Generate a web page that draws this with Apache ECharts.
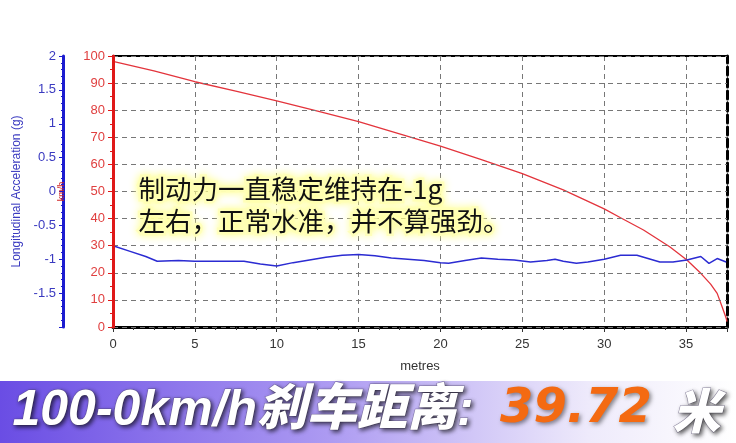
<!DOCTYPE html>
<html>
<head>
<meta charset="utf-8">
<title>100-0km/h 刹车距离</title>
<script src="https://cdn.jsdelivr.net/npm/echarts@6/dist/echarts.min.js"></script>
<style>
  html, body { margin: 0; padding: 0; background: #fff; }
  #main { width: 736px; height: 443px; }
</style>
</head>
<body>
<div id="main"></div>
<script>
// 车速曲线（米 -> km/h）
var speedDist = [0, 2.5, 5, 7.5, 10, 12.5, 15, 17.5, 20, 22.5, 25, 27.5, 30, 31, 32.4, 34, 35.05, 35.9, 36.5, 36.9, 37.2, 37.45, 37.5];
var speedKmh = [98, 94.5, 90.5, 87, 83.4, 79.7, 75.8, 71.3, 66.7, 61.8, 56.6, 50.6, 43.6, 40.3, 35.8, 29.6, 24.7, 19.8, 15.8, 12.4, 7.5, 3.2, 2];

// 纵向加速度（米 -> g）
var accDist = [0, 1, 2, 2.7, 4, 5, 6, 7, 8, 9, 10, 11, 12, 13, 14, 15, 16, 17, 18, 19, 20, 20.5, 21.5, 22.5, 23.5, 24.5, 25.5, 26.5, 27, 27.5, 28.3, 29, 30, 31, 32, 33.4, 34.2, 35.05, 35.9, 36.4, 36.9, 37.45];
var accG = [-0.8, -0.88, -0.96, -1.03, -1.02, -1.03, -1.03, -1.03, -1.03, -1.07, -1.1, -1.05, -1.01, -0.97, -0.94, -0.93, -0.95, -0.98, -1.0, -1.02, -1.05, -1.06, -1.02, -0.98, -1.0, -1.01, -1.04, -1.02, -1.0, -1.03, -1.06, -1.04, -1.0, -0.94, -0.94, -1.04, -1.04, -1.01, -0.96, -1.06, -0.99, -1.04];

// 标注文字
var noteLines = ["制动力一直稳定维持在-1g", "左右，正常水准，并不算强劲。"];
var bannerLeft = "100-0km/h刹车距离:";
var bannerNum = "39.72";
var bannerUnit = "米";

(function() {
  var myChart = echarts.init(document.getElementById("main"));

  var speedData = speedDist.map(function(d, i) { return [d, speedKmh[i]]; });
  var accData = accDist.map(function(d, i) { return [d, accG[i]]; });

  var labelFont = '"Liberation Sans", Arial, sans-serif';

  var option = {
    animation: false,
    backgroundColor: "#fff",
    grid: { left: 113, right: 9, top: 56, bottom: 116 },
    xAxis: [
      {
        type: "value",
        position: "bottom",
        min: 0,
        max: 37.5,
        interval: 5,
        name: "metres",
        nameLocation: "middle",
        nameGap: 33,
        nameTextStyle: { color: "#333", fontSize: 13, fontFamily: labelFont },
        axisLine: { onZero: false, lineStyle: { color: "#000", width: 3 } },
        axisTick: { length: 5, lineStyle: { color: "#333" } },
        minorTick: { show: true, splitNumber: 4, length: 3, lineStyle: { color: "#333" } },
        axisLabel: { color: "#333", fontSize: 13, fontFamily: labelFont, margin: 11, showMaxLabel: false },
        splitLine: { show: true, lineStyle: { color: "#777", type: [5, 4], width: 1 } }
      },
      {
        // 顶部边框
        type: "value",
        position: "top",
        min: 0,
        max: 37.5,
        axisLine: { onZero: false, lineStyle: { color: "#000", width: 2 } },
        axisTick: { show: false },
        axisLabel: { show: false },
        splitLine: { show: false }
      }
    ],
    yAxis: [
      {
        // km/h 轴
        type: "value",
        position: "left",
        z: 5,
        min: 0,
        max: 100,
        interval: 10,
        name: "km/h",
        nameLocation: "middle",
        nameRotate: 90,
        nameGap: 47,
        nameTextStyle: { color: "#d02828", fontSize: 9, fontFamily: labelFont },
        axisLine: { show: true, onZero: false, lineStyle: { color: "#e01818", width: 3 } },
        axisTick: { show: true, length: 5, lineStyle: { color: "#e01818" } },
        minorTick: { show: true, splitNumber: 2, length: 3, lineStyle: { color: "#e01818" } },
        axisLabel: { color: "#e04040", fontSize: 13, fontFamily: labelFont, margin: 8 },
        splitLine: { show: true, lineStyle: { color: "#777", type: [5, 4], width: 1 } }
      },
      {
        // 加速度轴
        type: "value",
        position: "left",
        offset: 50,
        min: -2,
        max: 2,
        interval: 0.5,
        name: "Longitudinal Acceleration (g)",
        nameLocation: "middle",
        nameRotate: 90,
        nameGap: 36,
        nameTextStyle: { color: "#3a3ac0", fontSize: 12, fontFamily: labelFont },
        axisLine: { show: true, onZero: false, lineStyle: { color: "#1c1cd0", width: 3 } },
        axisTick: { show: true, length: 4, lineStyle: { color: "#1c1cd0" } },
        minorTick: { show: true, splitNumber: 5, length: 2, lineStyle: { color: "#1c1cd0" } },
        axisLabel: { color: "#3a3ac0", fontSize: 13, fontFamily: labelFont, margin: 7, showMinLabel: false },
        splitLine: { show: false }
      },
      {
        // 右侧虚线边框
        type: "value",
        position: "right",
        min: 0,
        max: 100,
        axisLine: { show: true, onZero: false, lineStyle: { color: "#000", width: 3, type: [8, 4] } },
        axisTick: { show: false },
        axisLabel: { show: false },
        splitLine: { show: false }
      }
    ],
    series: [
      {
        name: "车速",
        type: "line",
        xAxisIndex: 0,
        yAxisIndex: 0,
        showSymbol: false,
        data: speedData,
        lineStyle: { color: "#e3343c", width: 1.3 },
        z: 3
      },
      {
        name: "纵向加速度",
        type: "line",
        xAxisIndex: 0,
        yAxisIndex: 1,
        showSymbol: false,
        data: accData,
        lineStyle: { color: "#2b2bd2", width: 1.5 },
        z: 3
      }
    ],
    graphic: [
      // 标注文字
      {
        type: "text",
        left: 136,
        top: 173,
        z: 10,
        style: {
          text: noteLines[0],
          fill: "#111",
          font: '26.5px "Noto Sans CJK SC", sans-serif',
          stroke: "rgba(255,255,190,0.95)",
          lineWidth: 5,
          textShadowColor: "#ffff90",
          textShadowBlur: 8
        }
      },
      {
        type: "text",
        left: 136,
        top: 205,
        z: 10,
        style: {
          text: noteLines[1],
          fill: "#111",
          font: '26.5px "Noto Sans CJK SC", sans-serif',
          stroke: "rgba(255,255,190,0.95)",
          lineWidth: 5,
          textShadowColor: "#ffff90",
          textShadowBlur: 8
        }
      },
      // 底部横幅
      {
        type: "rect",
        left: 0,
        top: 381,
        z: 20,
        shape: { width: 736, height: 62 },
        style: {
          fill: new echarts.graphic.LinearGradient(0, 0, 1, 0, [
            { offset: 0, color: "#6a4de4" },
            { offset: 0.45, color: "#ad9bf2" },
            { offset: 0.8, color: "#eeeafb" },
            { offset: 1, color: "#ffffff" }
          ])
        }
      },
      {
        type: "text",
        left: 12,
        top: 386,
        z: 21,
        style: {
          text: bannerLeft,
          fill: "#fff",
          font: 'italic 900 50px "Liberation Sans", "Noto Sans CJK SC", sans-serif',
          stroke: "rgba(90,80,120,0.6)",
          lineWidth: 1,
          textShadowColor: "rgba(0,0,0,0.65)",
          textShadowBlur: 4,
          textShadowOffsetX: 2,
          textShadowOffsetY: 2
        }
      },
      {
        type: "text",
        left: 500,
        top: 386,
        z: 21,
        style: {
          text: bannerNum,
          fill: "#f46a12",
          font: 'italic bold 48px "DejaVu Sans", sans-serif',
          textShadowColor: "rgba(0,0,0,0.45)",
          textShadowBlur: 4,
          textShadowOffsetX: 2,
          textShadowOffsetY: 2
        }
      },
      {
        type: "text",
        left: 672,
        top: 386,
        z: 21,
        style: {
          text: bannerUnit,
          fill: "#fff",
          font: 'italic 900 48px "Noto Sans CJK SC", sans-serif',
          stroke: "rgba(90,80,120,0.6)",
          lineWidth: 1,
          textShadowColor: "rgba(0,0,0,0.65)",
          textShadowBlur: 4,
          textShadowOffsetX: 2,
          textShadowOffsetY: 2
        }
      }
    ]
  };

  myChart.setOption(option);
  window.addEventListener("resize", function() {
    myChart.resize();
  });
})();
</script>
</body>
</html>
